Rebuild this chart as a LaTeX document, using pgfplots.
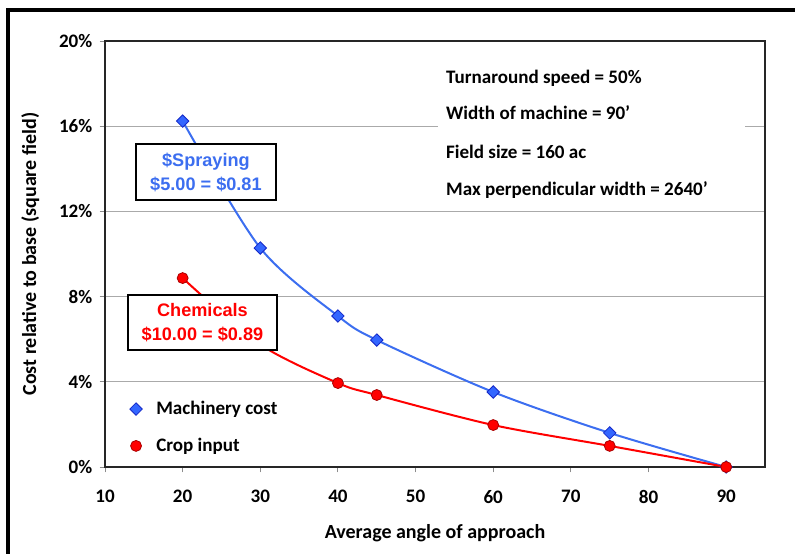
\documentclass[border=0pt]{standalone}
\usepackage{pgfplots}
\pgfplotsset{compat=1.18}
\usepackage{fontspec}
\setmainfont{Carlito}
\newfontfamily\arialfont{Liberation Sans}
\definecolor{bluel}{RGB}{60,110,240}
\definecolor{bluem}{RGB}{51,102,255}
\definecolor{bluee}{RGB}{20,40,200}
\definecolor{redl}{RGB}{255,0,0}
\definecolor{rede}{RGB}{170,0,0}
\definecolor{gridc}{RGB}{170,170,170}
\pgfplotstableread{
x y
20 16.24
30 10.28
40 7.09
45 5.96
60 3.52
75 1.60
90 0.00
}\machinery
\pgfplotstableread{
x y
20 8.87
30 5.75
40 3.94
45 3.38
60 1.97
75 0.99
90 0.00
}\crop
\begin{document}
\begin{tikzpicture}
\path[use as bounding box] (-78.75pt,-64.5pt) rectangle (517.5pt,350.25pt);
\draw[line width=3pt,line cap=rect] (-72.75pt,-70pt) -- (-72.75pt,342.75pt) -- (530pt,342.75pt);
\begin{axis}[
  at={(0pt,0pt)}, anchor=south west,
  scale only axis, width=495pt, height=319.5pt,
  xmin=10, xmax=95, ymin=0, ymax=20,
  xtick={10,20,...,90},
  ytick={0,4,8,12,16,20},
  yticklabels={0\%,4\%,8\%,12\%,16\%,20\%},
  xtick pos=bottom, ytick pos=left,
  tick align=outside,
  major tick length=4pt,
  tick style={black!45, line width=0.7pt},
  axis line style={black!85, line width=1.5pt},
  ymajorgrids, grid style={gridc, line width=0.7pt},
  /pgf/number format/assume math mode=true,
  ticklabel style={font=\fontsize{14.3}{16}\selectfont\bfseries},
  xticklabel style={yshift=-10pt},
  yticklabel style={xshift=-2pt},
  xlabel={Average angle of approach},
  ylabel={Cost relative to base (square field)},
  label style={font=\fontsize{15}{17}\selectfont\bfseries},
  xlabel style={yshift=-9pt},
  ylabel style={yshift=8pt},
  clip=false,
]
\addplot[bluel, line width=1.5pt, smooth, tension=0.5, mark=square*, mark size=3.3pt,
  mark options={fill=bluem, draw=bluee, line width=0.6pt, rotate=45}] table[x=x,y=y] {\machinery};
\addplot[redl, line width=1.5pt, smooth, tension=0.5, mark=*, mark size=4.1pt,
  mark options={fill=redl, draw=rede, line width=0.6pt}] table[x=x,y=y] {\crop};
% legend
\addplot[only marks, mark=square*, mark size=3.3pt, mark options={fill=bluem, draw=bluee, line width=0.6pt, rotate=45}] coordinates {(14.0,2.72)};
\addplot[only marks, mark=*, mark size=4.1pt, mark options={fill=redl, draw=rede, line width=0.6pt}] coordinates {(14.0,0.99)};
\node[anchor=west, font=\fontsize{14.3}{16}\selectfont\bfseries] at (axis cs:16.0,2.72) {Machinery cost};
\node[anchor=west, font=\fontsize{14.3}{16}\selectfont\bfseries] at (axis cs:16.0,0.99) {Crop input};
% info block
\fill[white] (axis cs:52.86,12.3) rectangle (axis cs:92.4,19.1);
\begin{scope}[every node/.style={anchor=west, font=\fontsize{14.3}{16}\selectfont\bfseries, inner sep=0pt}]
\node at (axis cs:53.9,18.26) {Turnaround speed = 50\%};
\node at (axis cs:53.9,16.62) {Width of machine = 90’};
\node at (axis cs:53.9,14.79) {Field size = 160 ac};
\node at (axis cs:53.9,13.0) {Max perpendicular width = 2640’};
\end{scope}
\coordinate (boxA) at (axis cs:23.0,13.85);
\coordinate (boxB) at (axis cs:22.55,6.78);
\end{axis}
% annotation boxes (drawn over the plot)
\node[draw=black, line width=1.8pt, fill=white, align=center, text=bluel,
  font=\arialfont\fontsize{13.6}{18}\selectfont\bfseries, minimum width=105pt, minimum height=42pt, inner sep=2pt]
  at (boxA) {\$Spraying\\\$5.00 = \$0.81};
\node[draw=black, line width=1.8pt, fill=white, align=center, text=redl,
  font=\arialfont\fontsize{13.6}{18}\selectfont\bfseries, minimum width=112pt, minimum height=41pt, inner sep=2pt]
  at (boxB) {Chemicals\\\$10.00 = \$0.89};
\end{tikzpicture}
\end{document}
